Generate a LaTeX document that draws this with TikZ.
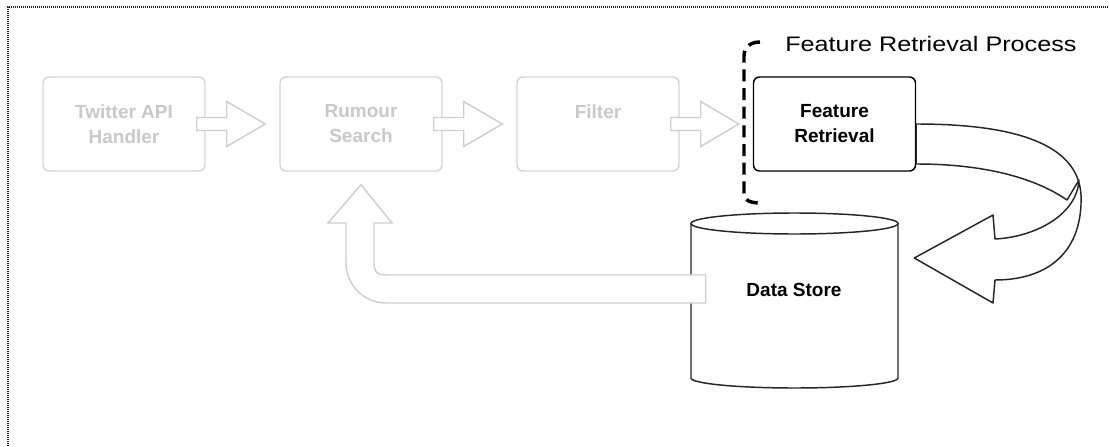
\documentclass[tikz,border=0pt]{standalone}
\usepackage{fontspec}
\setmainfont{Liberation Sans}
\newfontfamily\titlefont[FakeStretch=1.2]{Liberation Sans}
\usetikzlibrary{calc}
\definecolor{fadeline}{HTML}{D6D6D6}
\definecolor{fadetext}{HTML}{C9C9C9}
\definecolor{fadearrow}{HTML}{CFCFCF}
\definecolor{framegrey}{HTML}{202020}

\begin{document}
\begin{tikzpicture}[x=0.75pt,y=-0.75pt,
  stage/.style={rectangle, rounded corners=4.5pt, minimum width=121.5pt,
    minimum height=70.5pt, inner sep=0pt, line width=1.1pt, fill=white,
    align=center, font=\bfseries\fontsize{14.25}{18.75}\selectfont},
  idle/.style={stage, draw=fadeline, text=fadetext},
  active/.style={stage, draw=black, text=black},
  flowarrow/.style={draw=fadearrow, fill=white, line width=1.1pt, line join=miter},
  turnarrow/.style={draw=black!85, fill=white, line width=1.1pt, line join=round},
  storeline/.style={draw=black!85, line width=1.1pt},
  bracket/.style={draw=black, line width=2.6pt, dash pattern=on 9pt off 5pt},
  frame/.style={draw=framegrey, line width=0.8pt, dash pattern=on 0.75pt off 0.75pt}
]
\useasboundingbox (0,0) rectangle (1109,446);

% page frame (dotted)
\draw[frame] (8,446) -- (8,7) -- (1109,7);

% pipeline stages
\node[idle] (tw) at (124,124) {Twitter API\\Handler};
\node[idle] (rs) at (361,124) {Rumour\\Search};
\node[idle] (fl) at (598,124) {Filter\\\phantom{H}};
\node[active] (fr) at (834.5,124) {Feature\\Retrieval};

% block arrows between stages
\foreach \a/\b in {tw/rs, rs/fl, fl/fr}{
  \draw[flowarrow] ($(\a.east)+(-9,-6.5)$) -- ++(30,0) -- ++(0,-16)
    -- ($(\b.west)+(-14,0)$) -- ($(\a.east)+(21,22.5)$) -- ++(0,-16)
    -- ++(-30,0) -- cycle;
}

% bracket and caption of the retrieval step
\draw[bracket] (760,42) .. controls (752,42) and (744,46) .. (744,56)
  -- (744,193) .. controls (744,200) and (749,203) .. (761,203);
\node[anchor=base west, inner sep=0pt,
  font=\titlefont\fontsize{15.75}{18}\selectfont] (title) at (785,51)
  {Feature Retrieval Process};

% data store cylinder
\node[inner sep=0pt, minimum width=155.25pt, minimum height=123.75pt] (store)
  at (794.5,306) {};
\draw[storeline] (691,223.5) -- (691,378) arc (180:0:103.5 and 10) -- (898,223.5);
\draw[storeline] (794.5,223.5) ellipse (103.5 and 10.5);
\node[anchor=base, inner sep=0pt,
  font=\bfseries\fontsize{14.25}{18}\selectfont] (ds) at (794,296) {Data Store};

% curved arrow from feature retrieval into the store
\draw[turnarrow] (fr.east)
  .. controls (1010,124) and (1078,142) .. (1081,195)
  .. controls (1083,250) and (1050,280) .. (995,280)
  -- (993,303) -- ($(store.east)+(16,-48)$) -- (993,215) -- (995,239)
  .. controls (1035,237) and (1077,215) .. (1079,180)
  -- (1067,200)
  .. controls (1035,178) and (985,164) .. ($(fr.east)+(0,40)$) -- cycle;

% return arrow from the store back to rumour search
\draw[flowarrow] ($(store.west)+(15,-31)$) -- (386,275)
  .. controls (377,275) and (374,272) .. (374,263) -- (374,223) -- (392,223)
  -- ($(rs.south)+(0,13)$) -- (328,223) -- (346,223) -- (346,263)
  .. controls (346,285) and (364,303) .. (386,303)
  -- ($(store.west)+(15,-3)$) -- cycle;
\end{tikzpicture}
\end{document}
